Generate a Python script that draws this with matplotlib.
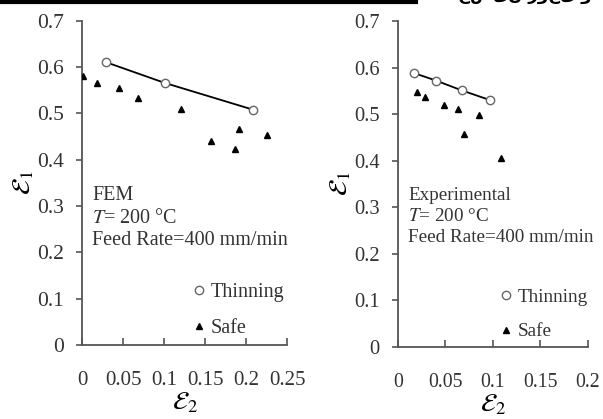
import matplotlib
matplotlib.use("Agg")
import matplotlib.pyplot as plt
from matplotlib.lines import Line2D

plt.rcParams['font.family'] = ['Liberation Serif', 'DejaVu Serif']
plt.rcParams['mathtext.fontset'] = 'stix'

# FEM panel
fem_thin_e2 = [0.029, 0.101, 0.209]
fem_thin_e1 = [0.611, 0.566, 0.508]
fem_safe_e2 = [0.001, 0.018, 0.045, 0.068, 0.121, 0.157, 0.187, 0.191, 0.226]
fem_safe_e1 = [0.581, 0.566, 0.555, 0.534, 0.510, 0.441, 0.424, 0.467, 0.453]

# Experimental panel
exp_thin_e2 = [0.017, 0.040, 0.067, 0.097]
exp_thin_e1 = [0.588, 0.572, 0.551, 0.530]
exp_safe_e2 = [0.020, 0.028, 0.048, 0.063, 0.070, 0.085, 0.108]
exp_safe_e1 = [0.547, 0.536, 0.520, 0.511, 0.457, 0.497, 0.405]

fem_xticks = [0, 0.05, 0.1, 0.15, 0.2, 0.25]
fem_xlabels = ["0", "0.05", "0.1", "0.15", "0.2", "0.25"]
exp_xticks = [0, 0.05, 0.1, 0.15, 0.2]
exp_xlabels = ["0", "0.05", "0.1", "0.15", "0.2"]
yticks = [0, 0.1, 0.2, 0.3, 0.4, 0.5, 0.6, 0.7]
ylabels = ["0", "0.1", "0.2", "0.3", "0.4", "0.5", "0.6", "0.7"]

fig = plt.figure(figsize=(6.03, 4.19), dpi=100)
ax1 = fig.add_axes([0.136, 0.177, 0.340, 0.773])
ax2 = fig.add_axes([0.660, 0.172, 0.315, 0.778])

spine_col = '#555555'
txt_col = '#333333'


def panel(ax, thin_x, thin_y, safe_x, safe_y, xticks, xlabels, xmax, title,
          text_x, leg_anchor, k):
    # k scales the fonts: the two panels were pasted at slightly different sizes
    fs = 14.5 * k
    ax.plot(thin_x, thin_y, color='black', lw=1.3, zorder=2)
    ax.plot(thin_x, thin_y, ls='none', marker='o', ms=6, mfc='white',
            mec='#666666', mew=1.0, zorder=3, label='Thinning')
    ax.plot(safe_x, safe_y, ls='none', marker='^', ms=5, color='black',
            zorder=3, label='Safe')
    ax.set_xlim(0, xmax)
    ax.set_ylim(0, 0.7)
    ax.set_xticks(xticks)
    ax.set_xticklabels(xlabels)
    ax.set_yticks(yticks)
    ax.set_yticklabels(ylabels)
    for s in ['top', 'right']:
        ax.spines[s].set_visible(False)
    for s in ['left', 'bottom']:
        ax.spines[s].set_color(spine_col)
        ax.spines[s].set_linewidth(1.3)
    ax.tick_params(axis='x', direction='in', length=5, width=1.2,
                   color=spine_col, pad=19, labelsize=15 * k, labelcolor=txt_col)
    ax.tick_params(axis='y', direction='out', length=4, width=1.2,
                   color=spine_col, pad=9, labelsize=15.5 * k, labelcolor=txt_col)
    ax.set_xlabel(r'$\mathcal{E}_2$', fontsize=19, labelpad=0)
    ax.set_ylabel(r'$\mathcal{E}_1$', fontsize=19, labelpad=1)
    ax.text(text_x, 0.49, title + "\n" + r"$T$= 200 °C" + "\nFeed Rate=400 mm/min",
            transform=ax.transAxes, fontsize=fs, va='top', ha='left',
            color=txt_col, linespacing=1.25 / k)
    leg = ax.legend(loc='center left', bbox_to_anchor=leg_anchor, frameon=False,
                    fontsize=fs, handlelength=0.6, handletextpad=0.3,
                    labelspacing=0.85 / k, borderaxespad=0)
    for t in leg.get_texts():
        t.set_color(txt_col)


panel(ax1, fem_thin_e2, fem_thin_e1, fem_safe_e2, fem_safe_e1,
      fem_xticks, fem_xlabels, 0.25, "FEM", 0.05, (0.50, 0.105), 1.0)
panel(ax2, exp_thin_e2, exp_thin_e1, exp_safe_e2, exp_safe_e1,
      exp_xticks, exp_xlabels, 0.2, "Experimental", 0.055, (0.50, 0.10), 0.95)

# cropped page header
fig.add_artist(Line2D([0, 0.69], [0.995, 0.995], transform=fig.transFigure,
                      color='black', lw=3))
fig.text(0.70, 1.012, "۱۷۶ حسین روحی و همکاران", fontsize=12, ha='left',
         va='center', family=['DejaVu Sans'], fontweight='bold')

fig.savefig("out.png", dpi=100)
